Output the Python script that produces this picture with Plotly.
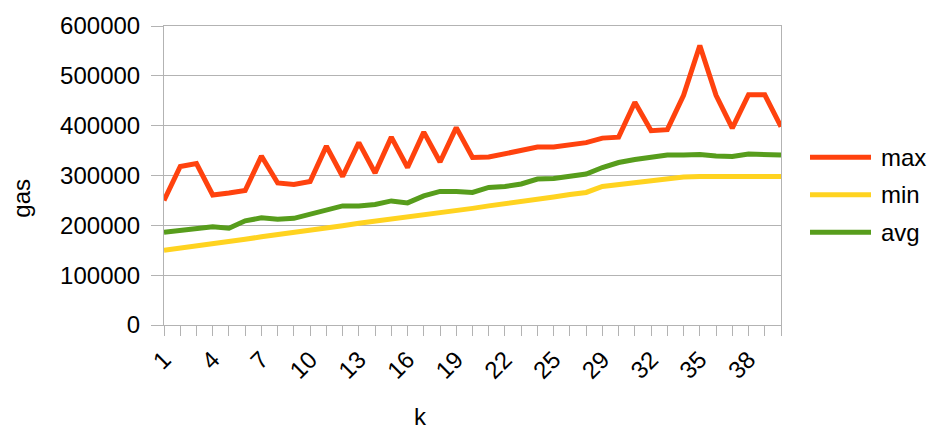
import plotly.graph_objects as go

# k values (28 is absent from the run)
k = [str(v) for v in list(range(1, 28)) + list(range(29, 41))]

gas_max = [250000, 318000, 324000, 261000, 265000, 270000, 339000, 285000, 282000, 288000,
           359000, 298000, 366000, 305000, 377000, 316000, 387000, 327000, 396000, 336000,
           337000, 344000, 349000, 357000, 357000, 362000, 366000, 375000, 377000, 447000,
           390000, 392000, 461000, 561000, 461000, 395000, 462000, 462000, 398000]

gas_min = [150000, 154000, 159000, 163000, 168000, 172000, 177000, 181000, 186000, 190000,
           195000, 199000, 204000, 208000, 213000, 217000, 222000, 226000, 230000, 234000,
           239000, 243000, 248000, 252000, 257000, 262000, 266000, 278000, 282000, 286000,
           291000, 295000, 297000, 298000, 298000, 298000, 298000, 298000, 298000]

gas_avg = [186000, 189000, 193000, 197000, 194000, 209000, 215000, 212000, 214000, 222000,
           229000, 239000, 239000, 242000, 249000, 245000, 259000, 268000, 268000, 266000,
           276000, 278000, 283000, 293000, 294000, 299000, 303000, 316000, 326000, 332000,
           336000, 341000, 341000, 342000, 339000, 338000, 343000, 341000, 341000]

series = [("max", gas_max, "#ff420e"), ("min", gas_min, "#ffd320"), ("avg", gas_avg, "#579d1c")]

FONT = "Liberation Sans, Arial, sans-serif"
GRID = "#b3b3b3"

# plot area in pixels
L, R, T, B = 164, 781, 22, 325
PW, PH = R - L, B - T


def px(x):
    return (x - L) / PW


def py(y):
    return (B - y) / PH


fig = go.Figure()
for name, vals, color in series:
    fig.add_trace(go.Scatter(x=k, y=vals, name=name, mode="lines",
                             line=dict(color=color, width=5), showlegend=False))

ticktext = [lab if i % 3 == 0 else "" for i, lab in enumerate(k)]

# legend drawn to the right of the plot: sample line + label per series
shapes, annotations = [], []
for i, (name, _, color) in enumerate(series):
    yc = 155 + 38 * i
    shapes.append(dict(type="line", xref="paper", yref="paper",
                       x0=px(810), x1=px(871), y0=py(yc), y1=py(yc),
                       line=dict(color=color, width=5)))
    annotations.append(dict(text=name, xref="paper", yref="paper",
                            x=px(879), y=py(yc), xanchor="left", yanchor="middle",
                            showarrow=False, font=dict(size=24)))

annotations += [
    dict(text="gas", xref="paper", yref="paper",
         x=px(22), y=py(197), textangle=-90,
         showarrow=False, font=dict(size=24), xanchor="center", yanchor="middle"),
    dict(text="k", xref="paper", yref="paper",
         x=px(420), y=py(418),
         showarrow=False, font=dict(size=24), xanchor="center", yanchor="middle"),
]

fig.update_layout(
    width=935, height=435,
    margin=dict(l=L, r=935 - R, t=T, b=435 - B),
    paper_bgcolor="white", plot_bgcolor="white",
    font=dict(family=FONT, size=24, color="#000000"),
    showlegend=False,
    xaxis=dict(type="category", range=[0, len(k) - 1],
               tickmode="array", tickvals=k, ticktext=ticktext,
               tickangle=-45, ticks="outside", ticklen=10, tickcolor=GRID,
               showline=True, linecolor=GRID, mirror=True, showgrid=False,
               zeroline=False, tickfont=dict(size=24)),
    yaxis=dict(range=[0, 600000], tickmode="linear", tick0=0, dtick=100000,
               ticks="outside", ticklen=12, tickcolor=GRID,
               showline=True, linecolor=GRID, mirror=True,
               showgrid=True, gridcolor=GRID, zeroline=False,
               tickformat="d", tickfont=dict(size=24), ticklabelstandoff=6),
    shapes=shapes,
    annotations=annotations,
)

fig.write_html("out.html")
